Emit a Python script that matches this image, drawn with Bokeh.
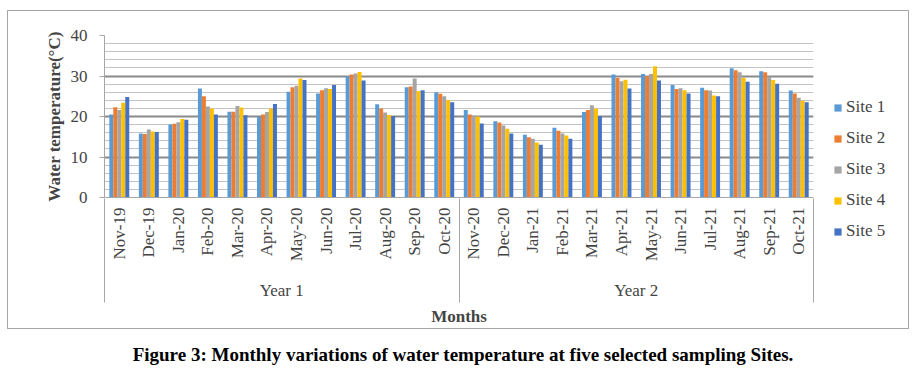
import math
from bokeh.plotting import figure
from bokeh.layouts import column, row
from bokeh.models import (LinearAxis, FixedTicker, SingleIntervalTicker, Range1d, Legend,
                          LegendItem, ColumnDataSource, Div)
from bokeh.transform import dodge
from bokeh.embed import file_html
from bokeh.resources import INLINE

months = ["Nov-19", "Dec-19", "Jan-20", "Feb-20", "Mar-20", "Apr-20", "May-20", "Jun-20",
          "Jul-20", "Aug-20", "Sep-20", "Oct-20", "Nov-20", "Dec-20", "Jan-21", "Feb-21",
          "Mar-21", "Apr-21", "May-21", "Jun-21", "Jul-21", "Aug-21", "Sep-21", "Oct-21"]
years = ["Year 1", "Year 2"]
sites = ["Site 1", "Site 2", "Site 3", "Site 4", "Site 5"]

site1 = [20.5, 15.8, 18.0, 26.9, 21.2, 20.0, 26.1, 25.7, 30.0, 23.0, 27.2, 26.0,
         21.6, 18.8, 15.5, 17.2, 21.1, 30.4, 30.5, 27.8, 27.1, 31.9, 31.2, 26.4]
site2 = [22.3, 15.7, 18.2, 25.0, 21.2, 20.5, 27.2, 26.5, 30.4, 22.0, 27.4, 25.6,
         20.5, 18.5, 14.9, 16.5, 21.6, 29.5, 30.0, 26.8, 26.5, 31.4, 30.9, 25.7]
site3 = [21.6, 16.8, 18.6, 22.5, 22.6, 21.1, 27.6, 27.0, 30.6, 21.0, 29.4, 25.0,
         20.2, 17.8, 14.5, 15.8, 22.8, 28.7, 30.5, 27.0, 26.4, 30.9, 29.8, 24.6]
site4 = [23.4, 16.3, 19.4, 22.0, 22.2, 22.0, 29.4, 26.8, 31.0, 20.4, 26.3, 24.0,
         20.0, 17.0, 13.6, 15.3, 22.0, 29.1, 32.4, 26.5, 25.2, 29.5, 29.0, 23.9]
site5 = [24.8, 16.2, 19.2, 20.5, 20.3, 23.1, 29.0, 27.8, 28.9, 20.1, 26.5, 23.5,
         18.3, 15.8, 13.0, 14.5, 20.1, 26.9, 28.9, 25.7, 25.0, 28.6, 28.1, 23.5]

caption = "Figure 3: Monthly variations of water temperature at five selected sampling Sites."

colors = ["#5B9BD5", "#ED7D31", "#A5A5A5", "#FFC000", "#4472C4"]
FONT = "Liberation Serif"
GRAY = "#a6a6a6"

n = len(months)
per_year = n // len(years)
idx = list(range(n))
site_cols = ["s1", "s2", "s3", "s4", "s5"]
site_vals = [site1, site2, site3, site4, site5]
src = ColumnDataSource(dict(x=idx, **{c: v for c, v in zip(site_cols, site_vals)}))

MAIN_W, H = 806, 317
p = figure(width=MAIN_W, height=H, x_range=Range1d(-0.5, n - 0.5), y_range=Range1d(0, 40),
           x_axis_type=None, output_backend="svg", toolbar_location=None,
           min_border_left=96, min_border_right=1, min_border_top=24, min_border_bottom=130)
p.frame_align = False
p.outline_line_color = None
p.xgrid.visible = False

bw = 0.135
for k, (col, c) in enumerate(zip(site_cols, colors)):
    off = (k - 2) * bw
    p.vbar(x=dodge("x", off, range=p.x_range), top=col, width=bw, source=src,
           fill_color=c, line_color=None)

# y axis
yax = p.yaxis[0]
yax.ticker = SingleIntervalTicker(interval=10, num_minor_ticks=5)
yax.axis_line_color = GRAY
yax.major_tick_line_color = GRAY
yax.major_tick_out = 5
yax.major_tick_in = 0
yax.minor_tick_line_color = None
yax.major_label_text_font = FONT
yax.major_label_text_font_size = "17px"
yax.major_label_standoff = 12
yax.axis_label = "Water temperature(°C)"
yax.axis_label_text_font = FONT
yax.axis_label_text_font_style = "bold"
yax.axis_label_text_font_size = "17px"
yax.axis_label_standoff = 4
p.ygrid.grid_line_color = "#8a8a8a"
p.ygrid.grid_line_width = 1.8
p.ygrid.minor_grid_line_color = "#c4c4c4"
p.ygrid.minor_grid_line_width = 1.2

# month axis
m_ax = LinearAxis(ticker=FixedTicker(ticks=idx, minor_ticks=[]),
                  major_label_overrides={i: m for i, m in enumerate(months)})
m_ax.major_label_orientation = math.pi / 2
m_ax.major_tick_line_color = None
m_ax.major_tick_out = 0
m_ax.major_tick_in = 0
m_ax.minor_tick_line_color = None
m_ax.minor_tick_out = 0
m_ax.minor_tick_in = 0
m_ax.axis_line_color = GRAY
m_ax.major_label_text_font = FONT
m_ax.major_label_text_font_size = "17px"
m_ax.major_label_standoff = 10
p.add_layout(m_ax, "below")

# year label axis
centers = [y * per_year + (per_year - 1) / 2 for y in range(len(years))]
bounds = [y * per_year - 0.5 for y in range(len(years) + 1)]
yr_ax = LinearAxis(ticker=FixedTicker(ticks=centers, minor_ticks=[]),
                   major_label_overrides={c: t for c, t in zip(centers, years)})
yr_ax.major_tick_line_color = None
yr_ax.major_tick_out = 0
yr_ax.major_tick_in = 0
yr_ax.minor_tick_line_color = None
yr_ax.minor_tick_out = 0
yr_ax.minor_tick_in = 0
yr_ax.axis_line_color = None
yr_ax.major_label_text_font = FONT
yr_ax.major_label_text_font_size = "17px"
yr_ax.major_label_standoff = 16
p.add_layout(yr_ax, "below")

# separator axis (group boundaries) with the x-axis title
sep_ax = LinearAxis(ticker=FixedTicker(ticks=[], minor_ticks=bounds))
sep_ax.major_tick_line_color = None
sep_ax.major_tick_out = 0
sep_ax.major_tick_in = 0
sep_ax.minor_tick_line_color = GRAY
sep_ax.minor_tick_out = 0
sep_ax.minor_tick_in = 104
sep_ax.axis_line_color = None
sep_ax.major_label_standoff = 0
sep_ax.axis_label = "Months"
sep_ax.axis_label_text_font = FONT
sep_ax.axis_label_text_font_style = "bold"
sep_ax.axis_label_text_font_size = "17px"
sep_ax.axis_label_standoff = 4
p.add_layout(sep_ax, "below")

# legend panel (swatch glyphs use the same site data, kept entirely outside the panel's ranges)
LEG_W = 900 - MAIN_W
pl = figure(width=LEG_W, height=H, x_range=Range1d(0, 1), y_range=Range1d(1000, 1001),
            x_axis_type=None, y_axis_type=None, output_backend="svg", toolbar_location=None,
            min_border_left=19, min_border_top=86, min_border_right=0, min_border_bottom=0)
pl.frame_align = False
pl.outline_line_color = None
pl.grid.visible = False
leg_rs = [pl.vbar(x=dodge("x", -100, range=pl.x_range), top=col, width=0.1, source=src,
                  fill_color=c, line_color=None)
          for col, c in zip(site_cols, colors)]
legend = Legend(items=[LegendItem(label=s, renderers=[r]) for s, r in zip(sites, leg_rs)],
                location="top_left", orientation="vertical", background_fill_alpha=0,
                border_line_color=None, padding=0, margin=0, glyph_width=9, glyph_height=9,
                label_text_font=FONT, label_text_font_size="17px", label_standoff=4,
                spacing=11, label_height=17)
pl.add_layout(legend, "center")

chart = row(p, pl, spacing=0, styles={"border": "1px solid #a6a6a6"})

cap = Div(text=caption, width=902,
          styles={"text-align": "center", "font-family": FONT, "font-weight": "bold",
                  "font-size": "19px", "padding-top": "7px", "color": "#000000"})

layout = column(chart, cap, spacing=0, margin=(10, 0, 0, 7))

open("out.html", "w").write(file_html(layout, INLINE))
